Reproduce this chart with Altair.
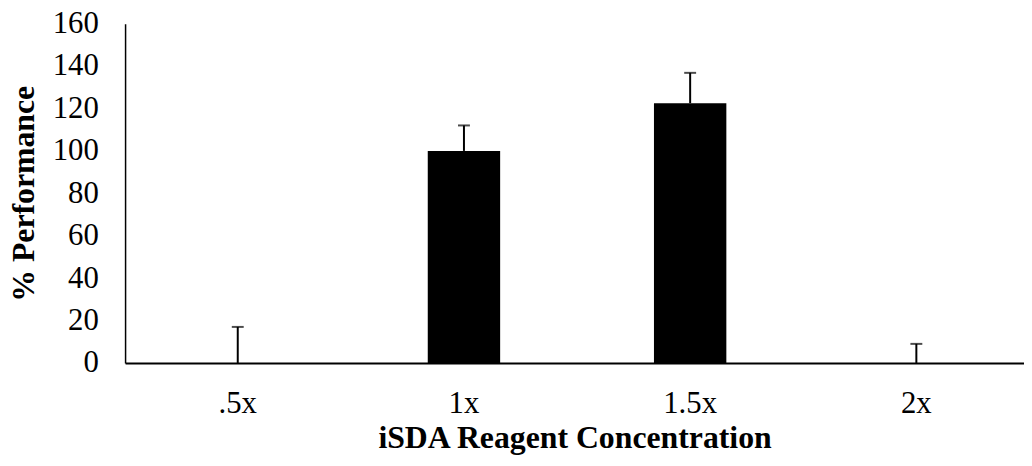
import altair as alt
import pandas as pd

categories = [".5x", "1x", "1.5x", "2x"]
performance = [0, 100, 122.5, 0]
error_up = [17, 12, 14.3, 9]

df = pd.DataFrame({
    "cat": categories,
    "val": performance,
    "top": [v + e for v, e in zip(performance, error_up)],
})

FONT = "Liberation Serif"

x = alt.X("cat:N", sort=categories, title="iSDA Reagent Concentration",
          scale=alt.Scale(paddingInner=0.68, paddingOuter=0.327, align=0.517),
          axis=alt.Axis(labelAngle=0, labelFont=FONT, labelFontSize=31, labelColor="black",
                        titleFont=FONT, titleFontSize=32, titleFontWeight="bold", titleColor="black",
                        domainColor="black", domainWidth=2, ticks=False, labelPadding=26,
                        titlePadding=4))
y_axis = alt.Axis(values=list(range(0, 161, 20)), labelFont=FONT, labelFontSize=31, labelColor="black",
                  titleFont=FONT, titleFontSize=32, titleFontWeight="bold", titleColor="black",
                  domainColor="black", domainWidth=1.5, ticks=False, grid=False, labelPadding=27,
                  titlePadding=12)
yscale = alt.Scale(domain=[0, 160], nice=False)

bars = alt.Chart(df).mark_bar(color="black").encode(
    x=x,
    y=alt.Y("val:Q", title="% Performance", scale=yscale, axis=y_axis),
)
rules = alt.Chart(df).mark_rule(color="black", strokeWidth=2).encode(
    x=alt.X("cat:N", sort=categories),
    y="val:Q",
    y2="top:Q",
)
caps = alt.Chart(df).mark_tick(color="black", size=12, thickness=2).encode(
    x=alt.X("cat:N", sort=categories),
    y="top:Q",
)

chart = (bars + rules + caps).properties(
    width=906, height=342,
    autosize=alt.AutoSizeParams(type="none"),
    padding={"left": 118, "top": 14, "right": 0, "bottom": 92},
).configure_view(stroke=None)

chart.save("out.html", embed_options={"renderer": "svg", "actions": False})
